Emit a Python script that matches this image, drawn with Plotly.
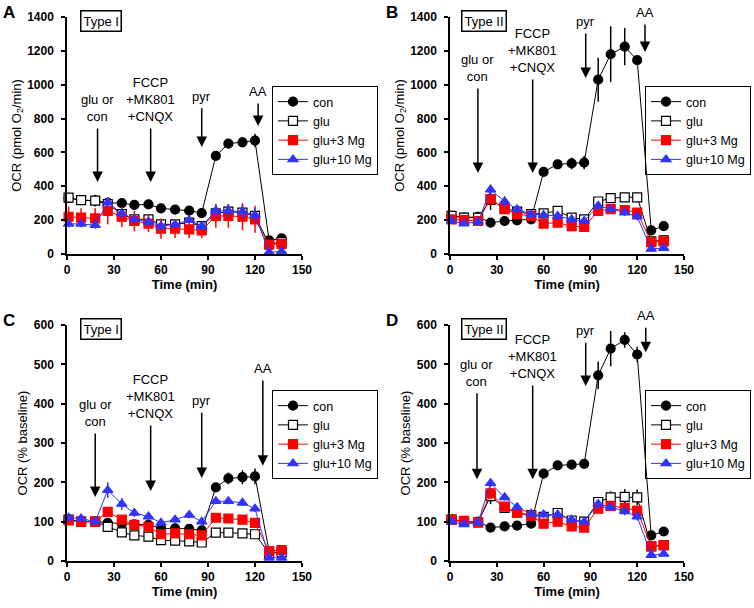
import plotly.graph_objects as go

# time points (min), shared by all panels
time_min = [1, 9, 18, 26, 35, 43, 52, 60, 69, 78, 86, 95, 103, 112, 120, 129, 137]

series_names = ["con", "glu", "glu+3 Mg", "glu+10 Mg"]

# Panel A: Type I, OCR (pmol O2/min)
a_con = [330, 318, 315, 302, 300, 290, 293, 270, 262, 256, 242, 580, 652, 660, 670, 80, 92]
a_glu = [333, 318, 315, 295, 235, 205, 205, 175, 175, 185, 165, 240, 250, 245, 225, 60, 70]
a_glu3 = [220, 215, 210, 255, 220, 195, 180, 150, 150, 145, 140, 225, 225, 220, 205, 55, 60]
a_glu10 = [178, 178, 170, 305, 240, 205, 190, 165, 175, 200, 165, 255, 255, 250, 230, 10, 15]
a_con_err = [20, 20, 20, 15, 10, 10, 10, 10, 10, 10, 10, 10, 15, 30, 40, 10, 10]
a_glu_err = [25, 25, 35, 30, 30, 25, 25, 20, 20, 20, 20, 40, 40, 40, 40, 10, 10]
a_glu3_err = [60, 55, 60, 80, 60, 60, 50, 60, 55, 50, 45, 70, 70, 80, 80, 20, 20]
a_glu10_err = [20, 20, 20, 30, 30, 20, 20, 20, 20, 20, 20, 40, 40, 40, 40, 10, 10]

# Panel B: Type II, OCR (pmol O2/min)
b_con = [225, 215, 220, 185, 195, 198, 205, 485, 530, 535, 540, 1030, 1180, 1225, 1145, 140, 165]
b_glu = [225, 215, 215, 320, 270, 250, 235, 240, 255, 215, 205, 310, 330, 335, 335, 75, 80]
b_glu3 = [205, 200, 195, 325, 265, 235, 225, 180, 185, 165, 160, 255, 265, 260, 245, 70, 75]
b_glu10 = [195, 180, 190, 380, 310, 265, 235, 230, 225, 205, 195, 285, 265, 245, 220, 30, 35]
b_con_err = [15, 10, 10, 10, 10, 10, 10, 15, 20, 35, 40, 130, 165, 110, 20, 10, 10]
b_glu_err = [20, 15, 15, 60, 30, 30, 20, 20, 20, 20, 20, 20, 20, 20, 20, 10, 10]
b_glu3_err = [20, 15, 15, 40, 30, 30, 20, 20, 20, 20, 20, 20, 20, 20, 20, 10, 10]
b_glu10_err = [15, 15, 15, 30, 30, 25, 20, 20, 20, 20, 20, 20, 20, 20, 20, 10, 10]

# Panel C: Type I, OCR (% baseline)
c_con = [105, 100, 100, 97, 95, 93, 92, 83, 83, 82, 78, 187, 210, 213, 215, 25, 28]
c_glu = [105, 100, 100, 87, 73, 65, 62, 53, 52, 50, 47, 72, 72, 70, 68, 20, 22]
c_glu3 = [103, 100, 100, 125, 105, 92, 87, 68, 70, 68, 65, 110, 108, 105, 97, 25, 28]
c_glu10 = [110, 108, 100, 180, 145, 122, 113, 97, 105, 117, 100, 152, 152, 148, 133, 8, 8]
c_con_err = [5, 5, 5, 5, 5, 5, 5, 5, 5, 5, 5, 8, 15, 18, 20, 5, 5]
c_glu_err = [5, 5, 5, 5, 5, 5, 5, 5, 5, 5, 5, 5, 5, 5, 5, 3, 3]
c_glu3_err = [5, 5, 5, 8, 8, 6, 6, 5, 5, 5, 5, 8, 8, 8, 8, 3, 3]
c_glu10_err = [8, 8, 5, 20, 15, 10, 10, 8, 8, 8, 8, 8, 8, 8, 8, 3, 3]

# Panel D: Type II, OCR (% baseline)
d_con = [105, 100, 100, 85, 88, 90, 95, 222, 243, 245, 247, 472, 540, 562, 525, 65, 75]
d_glu = [105, 100, 98, 165, 135, 122, 117, 112, 122, 103, 100, 150, 162, 163, 162, 37, 40]
d_glu3 = [105, 102, 98, 172, 138, 122, 115, 95, 100, 88, 85, 133, 140, 135, 128, 38, 40]
d_glu10 = [100, 93, 98, 198, 162, 137, 120, 118, 118, 105, 100, 145, 137, 126, 113, 15, 18]
d_con_err = [5, 5, 5, 5, 5, 5, 5, 5, 8, 8, 8, 35, 45, 20, 20, 5, 5]
d_glu_err = [5, 5, 5, 20, 8, 8, 8, 8, 10, 8, 8, 10, 15, 20, 20, 5, 5]
d_glu3_err = [5, 5, 5, 15, 8, 8, 8, 8, 8, 8, 8, 10, 10, 10, 10, 5, 5]
d_glu10_err = [5, 5, 5, 10, 8, 8, 8, 8, 8, 8, 8, 10, 10, 10, 10, 5, 5]

# arrows: label, time, tail value, tip value  (one list per panel)
a_arrows = [("glu or<br>con", 19.5, 750, 425), ("FCCP<br>+MK801<br>+CNQX", 53.4, 750, 425),
            ("pyr", 86, 870, 632), ("AA", 122, 898, 756)]
b_arrows = [("glu or<br>con", 17.9, 986, 478), ("FCCP<br>+MK801<br>+CNQX", 53, 1040, 478),
            ("pyr", 87, 1311, 1040), ("AA", 125, 1364, 1193)]
c_arrows = [("glu or<br>con", 18, 328, 163), ("FCCP<br>+MK801<br>+CNQX", 53.4, 348, 178),
            ("pyr", 86, 381, 211), ("AA", 125, 463, 242)]
d_arrows = [("glu or<br>con", 17.3, 430, 208), ("FCCP<br>+MK801<br>+CNQX", 53, 450, 208),
            ("pyr", 87, 559, 445), ("AA", 125.5, 597, 531)]

FONT = "Liberation Sans, Arial, sans-serif"
RED = "#ff0000"
BLUE = "#3333ff"

styles = [
    dict(color="black", symbol="circle", fill="black"),
    dict(color="black", symbol="square", fill="white"),
    dict(color=RED, symbol="square", fill=RED),
    dict(color=BLUE, symbol="triangle-up", fill=BLUE),
]

panels = [
    dict(ax="", letter="A", tag="Type I", legend="legend",
         data=[a_con, a_glu, a_glu3, a_glu10], err=[a_con_err, a_glu_err, a_glu3_err, a_glu10_err],
         arrows=a_arrows, ymax=1400, dtick=200, ytitle="OCR (pmol O<sub>2</sub>/min)",
         xdom=[67 / 754, 302 / 754], ydom=[1 - 254 / 608, 1 - 17 / 608]),
    dict(ax="2", letter="B", tag="Type II", legend="legend2",
         data=[b_con, b_glu, b_glu3, b_glu10], err=[b_con_err, b_glu_err, b_glu3_err, b_glu10_err],
         arrows=b_arrows, ymax=1400, dtick=200, ytitle="OCR (pmol O<sub>2</sub>/min)",
         xdom=[450 / 754, 684 / 754], ydom=[1 - 254 / 608, 1 - 17 / 608]),
    dict(ax="3", letter="C", tag="Type I", legend="legend3",
         data=[c_con, c_glu, c_glu3, c_glu10], err=[c_con_err, c_glu_err, c_glu3_err, c_glu10_err],
         arrows=c_arrows, ymax=600, dtick=100, ytitle="OCR (% baseline)",
         xdom=[67 / 754, 302 / 754], ydom=[1 - 561 / 608, 1 - 325 / 608]),
    dict(ax="4", letter="D", tag="Type II", legend="legend4",
         data=[d_con, d_glu, d_glu3, d_glu10], err=[d_con_err, d_glu_err, d_glu3_err, d_glu10_err],
         arrows=d_arrows, ymax=600, dtick=100, ytitle="OCR (% baseline)",
         xdom=[450 / 754, 684 / 754], ydom=[1 - 561 / 608, 1 - 325 / 608]),
]

fig = go.Figure()
annotations = []
layout = {}

for p in panels:
    xa, ya = "x" + p["ax"], "y" + p["ax"]
    for name, vals, err, st in zip(series_names, p["data"], p["err"], styles):
        fig.add_trace(go.Scatter(
            x=time_min, y=vals, name=name, mode="lines+markers",
            xaxis=xa, yaxis=ya, legend=p["legend"], cliponaxis=False,
            line=dict(color=st["color"], width=1),
            marker=dict(symbol=st["symbol"], size=9, color=st["fill"],
                        line=dict(color=st["color"], width=1.2)),
            error_y=dict(type="data", array=err, color=st["color"], thickness=1.5, width=0),
        ))

    axis_common = dict(showline=True, linecolor="black", linewidth=1.5, ticks="outside",
                       ticklen=4, tickwidth=1.5, tickcolor="black", showgrid=False,
                       zeroline=False, automargin=False,
                       tickfont=dict(family=FONT, size=12, color="black", weight="bold"))
    layout["xaxis" + p["ax"]] = dict(
        axis_common, domain=p["xdom"], range=[0, 150], dtick=30, anchor=ya,
        title=dict(text="<b>Time (min)</b>", font=dict(family=FONT, size=13, color="black"), standoff=3))
    layout["yaxis" + p["ax"]] = dict(
        axis_common, domain=p["ydom"], range=[0, p["ymax"]], dtick=p["dtick"], anchor=xa,
        ticklabelstandoff=5,
        title=dict(text=p["ytitle"], font=dict(family=FONT, size=13, color="black"), standoff=3))

    left_col = p["ax"] in ("", "3")
    ly = 1 - 86 / 608 if p["ax"] in ("", "2") else 1 - 390 / 608
    layout[p["legend"]] = dict(x=272 / 754 if left_col else 751 / 754, y=ly,
                               xanchor="left" if left_col else "right", yanchor="top",
                               bordercolor="black", borderwidth=1, bgcolor="rgba(255,255,255,0)",
                               font=dict(family=FONT, size=12.5, color="black"),
                               itemwidth=30, tracegroupgap=0, traceorder="normal")

    for label, t, tail, tip in p["arrows"]:
        annotations.append(dict(x=t, y=tip, ax=t, ay=tail, xref=xa, yref=ya, axref=xa, ayref=ya,
                                text="", showarrow=True, arrowhead=2, arrowsize=1.4,
                                arrowwidth=1.5, arrowcolor="black"))
        annotations.append(dict(x=t, y=tail, xref=xa, yref=ya, text=label, showarrow=False,
                                yanchor="bottom", xanchor="center", yshift=1,
                                font=dict(family=FONT, size=13, color="black")))

    # panel letter and type tag
    left = p["xdom"][0]
    top = p["ydom"][1]
    annotations.append(dict(x=left - 58 / 754, y=top + 5 / 608, xref="paper", yref="paper",
                            text="<b>" + p["letter"] + "</b>", showarrow=False,
                            xanchor="center", yanchor="middle",
                            font=dict(family=FONT, size=17, color="black")))
    annotations.append(dict(x=left + 34 / 754, y=top - 4 / 608, xref="paper", yref="paper",
                            text=p["tag"], showarrow=False, xanchor="center", yanchor="middle",
                            bordercolor="black", borderwidth=1.5, borderpad=2, bgcolor="white",
                            font=dict(family=FONT, size=13, color="black")))

fig.update_layout(
    width=754, height=608,
    margin=dict(l=0, r=0, t=0, b=0, autoexpand=False),
    paper_bgcolor="white", plot_bgcolor="white",
    annotations=annotations,
    **layout,
)

# the page body has a default 8px margin; drop it so the figure fills the window
fig.write_html("out.html", config={"displayModeBar": False},
               post_script="document.body.style.margin='0px';")
